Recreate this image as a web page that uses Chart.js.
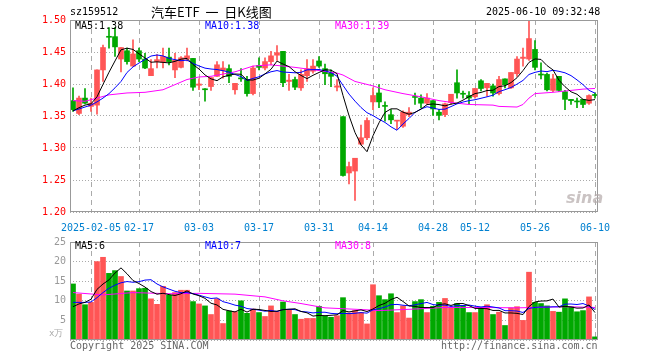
<!DOCTYPE html>
<html>
<head>
<meta charset="utf-8">
<script src="https://cdn.jsdelivr.net/npm/chart.js@4.4.1/dist/chart.umd.min.js"></script>
<style>
body{margin:0;width:660px;height:360px;background:#fff;position:relative;overflow:hidden;font-family:"DejaVu Sans Mono",monospace;font-size:10px}
canvas{position:absolute;left:0}
#price{top:0}
#vol{top:232px}
.t{position:absolute;white-space:pre;line-height:10px;font-size:10px}
</style>
</head>
<body>
<canvas id="price" width="660" height="240" style="width:660px;height:240px"></canvas>
<canvas id="vol" width="660" height="128" style="width:660px;height:128px"></canvas>

<div class="t" style="left:70px;top:7px">sz159512</div>
<div class="t" style="left:151px;top:5px;font:13px/13px 'Noto Sans CJK SC',sans-serif">汽车ETF  一  日K线图</div>
<div class="t" style="left:486px;top:7px">2025-06-10 09:32:48</div>

<div class="t" style="left:75px;top:21px;color:#000">MA5:1.38</div>
<div class="t" style="left:205px;top:21px;color:#0000ff">MA10:1.38</div>
<div class="t" style="left:335px;top:21px;color:#ff00ff">MA30:1.39</div>

<div class="t" style="left:75px;top:241px;color:#000">MA5:6</div>
<div class="t" style="left:205px;top:241px;color:#0000ff">MA10:7</div>
<div class="t" style="left:335px;top:241px;color:#ff00ff">MA30:8</div>

<div class="t" style="left:49px;top:328px;color:#aaa;font-size:9px">x万</div>
<div class="t" style="left:70px;top:341px;color:#666">Copyright 2025 SINA.COM</div>
<div class="t" style="left:441px;top:341px;color:#666">http://finance.sina.com.cn</div>
<div class="t" style="left:566px;top:190px;color:rgba(180,170,170,0.7);font:italic bold 16px/16px 'DejaVu Sans',sans-serif">sina</div>

<script>
const dates = [
  '01-23','01-24','01-27',
  '02-05','02-06','02-07','02-10','02-11','02-12','02-13','02-14','02-17','02-18','02-19','02-20','02-21','02-24','02-25','02-26','02-27','02-28',
  '03-03','03-04','03-05','03-06','03-07','03-10','03-11','03-12','03-13','03-14','03-17','03-18','03-19','03-20','03-21','03-24','03-25','03-26','03-27','03-28','03-31',
  '04-01','04-02','04-03','04-07','04-08','04-09','04-10','04-11','04-14','04-15','04-16','04-17','04-18','04-21','04-22','04-23','04-24','04-25','04-28','04-29','04-30',
  '05-06','05-07','05-08','05-09','05-12','05-13','05-14','05-15','05-16','05-19','05-20','05-21','05-22','05-23','05-26','05-27','05-28','05-29','05-30',
  '06-03','06-04','06-05','06-06','06-09','06-10'
];

const opens = [
  1.374,1.354,1.378,1.365,1.367,1.422,1.474,1.474,1.439,1.452,
  1.428,1.452,1.439,1.413,1.435,1.434,1.442,1.422,1.426,1.439,
  1.440,1.398,1.392,1.396,1.412,1.421,1.424,1.391,1.409,1.407,
  1.385,1.429,1.425,1.435,1.445,1.451,1.404,1.407,1.394,1.413,
  1.420,1.436,1.424,1.417,1.395,1.349,1.261,1.264,1.306,1.316,
  1.372,1.386,1.366,1.352,1.342,1.334,1.352,1.380,1.378,1.370,
  1.374,1.356,1.352,1.371,1.402,1.385,1.382,1.380,1.405,1.394,
  1.397,1.385,1.408,1.394,1.416,1.440,1.439,1.454,1.415,1.415,
  1.390,1.412,1.388,1.376,1.373,1.376,1.370,1.383
];
const highs = [
  1.394,1.381,1.393,1.378,1.422,1.461,1.488,1.488,1.457,1.456,
  1.469,1.456,1.448,1.438,1.446,1.456,1.456,1.448,1.443,1.456,
  1.440,1.408,1.393,1.410,1.435,1.435,1.430,1.401,1.424,1.412,
  1.428,1.441,1.441,1.451,1.460,1.451,1.415,1.411,1.422,1.438,
  1.438,1.443,1.431,1.422,1.407,1.349,1.278,1.284,1.336,1.347,
  1.394,1.399,1.372,1.360,1.343,1.358,1.363,1.386,1.383,1.385,
  1.374,1.360,1.370,1.384,1.422,1.389,1.388,1.393,1.407,1.401,
  1.400,1.412,1.408,1.418,1.443,1.456,1.501,1.468,1.433,1.417,
  1.415,1.412,1.390,1.376,1.378,1.376,1.383,1.386
];
const lows = [
  1.357,1.352,1.369,1.357,1.353,1.404,1.456,1.443,1.419,1.431,
  1.428,1.435,1.424,1.413,1.425,1.425,1.430,1.410,1.425,1.436,
  1.390,1.391,1.373,1.390,1.412,1.409,1.402,1.384,1.404,1.381,
  1.383,1.422,1.422,1.430,1.437,1.396,1.390,1.391,1.390,1.404,
  1.417,1.426,1.399,1.396,1.389,1.256,1.244,1.218,1.305,1.313,
  1.360,1.363,1.342,1.338,1.329,1.332,1.349,1.368,1.363,1.368,
  1.351,1.344,1.349,1.368,1.378,1.378,1.369,1.378,1.389,1.381,
  1.381,1.383,1.394,1.393,1.412,1.428,1.437,1.422,1.408,1.389,
  1.388,1.388,1.360,1.368,1.363,1.363,1.368,1.378
];
const closes = [
  1.360,1.378,1.370,1.370,1.422,1.457,1.473,1.458,1.457,1.435,
  1.447,1.439,1.425,1.424,1.438,1.443,1.435,1.437,1.441,1.444,
  1.395,1.400,1.391,1.410,1.430,1.425,1.412,1.401,1.408,1.385,
  1.425,1.426,1.435,1.444,1.449,1.402,1.406,1.395,1.415,1.424,
  1.428,1.428,1.416,1.412,1.397,1.257,1.271,1.284,1.316,1.343,
  1.382,1.372,1.365,1.344,1.343,1.356,1.356,1.379,1.370,1.378,
  1.361,1.351,1.369,1.384,1.386,1.384,1.378,1.393,1.393,1.401,
  1.386,1.407,1.399,1.418,1.439,1.442,1.471,1.426,1.414,1.391,
  1.408,1.390,1.376,1.374,1.372,1.368,1.382,1.382
];
// volume, in 10k
const volumes = [
  14.3,11.7,9.0,9.6,20.0,21.1,17.0,17.7,16.2,12.5,
  12.5,13.1,13.2,10.5,9.1,13.7,11.4,12.1,12.7,12.7,
  9.8,9.2,8.7,6.5,10.5,4.2,7.4,7.2,10.0,6.8,
  7.9,7.0,6.0,8.7,7.2,9.7,7.7,6.5,5.3,5.5,
  5.5,8.6,6.1,5.8,6.2,10.8,6.9,7.5,7.0,4.1,
  14.1,11.3,10.3,11.8,7.0,8.7,5.6,9.8,10.3,7.0,
  8.6,9.6,10.6,8.3,9.3,8.7,7.0,7.0,8.2,9.0,
  6.5,7.1,3.7,8.2,8.5,5.0,17.3,9.6,9.3,8.7,
  7.3,7.1,10.5,8.5,7.2,7.5,11.0,0.8
];

// averages before enough history exists
const ma5Lead = [1.358,1.363,1.367,1.369];
const ma10Lead = [1.358,1.361,1.364,1.367,1.372,1.378,1.385,1.394,1.404];
const vma5Lead = [8.5,9.2,9.6,10.4];
const vma10Lead = [9.6,9.6,9.6,9.7,10.8,12.1,13.2,14.0,14.6];

// MA30 at these days
const ma30Days = [0,2,4,6,9,12,15,17,19,21,23,27,30,33,37,41,44,45,47,50,52,55,58,61,64,66,70,71,74,75,76,77,80,83,85,87];
const ma30Vals = [1.374,1.373,1.378,1.383,1.386,1.387,1.391,1.399,1.407,1.411,1.412,1.419,1.428,1.430,1.426,1.421,1.417,1.414,1.404,1.397,1.391,1.385,1.380,1.374,1.370,1.368,1.367,1.365,1.364,1.368,1.378,1.385,1.387,1.390,1.392,1.393];
const vma30Days = [0,5,10,16,21,27,32,35,38,42,49,51,57,62,68,74,77,82,87];
const vma30Vals = [12.1,11.5,12.1,11.8,11.9,11.7,11.0,10.0,9.3,8.2,7.7,7.5,7.9,8.3,8.3,8.2,8.3,8.5,8.3];

const tickDates = ['02-05','02-17','03-03','03-17','03-31','04-14','04-28','05-12','05-26','06-10'];
const tickLabels = ['2025-02-05','02-17','03-03','03-17','03-31','04-14','04-28','05-12','05-26','06-10'];

const RED = '#ff5555', GREEN = '#00a800';
const colors = closes.map((c, i) => c >= opens[i] ? RED : GREEN);
const tickIdx = tickDates.map(d => dates.indexOf(d));

function ma(arr, n, lead) {
  return arr.map((v, i) => {
    if (i < n - 1) return lead[i];
    let s = 0;
    for (let k = i - n + 1; k <= i; k++) s += arr[k];
    return s / n;
  });
}
function sparse(days, vals) {
  const out = dates.map(() => null);
  days.forEach((d, k) => { out[d] = vals[k]; });
  return out;
}

const font = {family: '"DejaVu Sans Mono", monospace', size: 10};

const frame = {
  id: 'frame',
  afterDraw(chart) {
    const {ctx, chartArea: a} = chart;
    ctx.save();
    ctx.strokeStyle = '#999';
    ctx.lineWidth = 1;
    ctx.strokeRect(Math.round(a.left) + 0.5, Math.round(a.top) + 0.5,
      Math.round(a.right - a.left) - 1, Math.round(a.bottom - a.top) - 1);
    ctx.restore();
  }
};

function xAxis(showLabels, h) {
  return {
    offset: true,
    grid: {
      offset: false, drawTicks: false, lineWidth: 1,
      color: c => tickIdx.includes(c.index) ? '#aaa' : 'rgba(0,0,0,0)'
    },
    border: {display: false, dash: [5, 4]},
    ticks: {
      display: showLabels, autoSkip: false, maxRotation: 0, padding: 10,
      color: '#0080d0', font,
      callback: (v, i) => { const k = tickIdx.indexOf(i); return k < 0 ? '' : tickLabels[k]; }
    },
    afterFit: s => { s.height = h; }
  };
}

function line(data, color) {
  return {type: 'line', data, borderColor: color, borderWidth: 1, pointRadius: 0,
    tension: 0, spanGaps: true, order: 0};
}

new Chart(document.getElementById('price'), {
  type: 'bar',
  data: {
    labels: dates,
    datasets: [
      {data: lows.map((l, i) => [l, highs[i]]), backgroundColor: colors,
        barThickness: 1, grouped: false, order: 2},
      {data: opens.map((o, i) => [o, closes[i]]), backgroundColor: colors,
        barThickness: 5, minBarLength: 1, grouped: false, order: 1},
      line(ma(closes, 5, ma5Lead), '#000000'),
      line(ma(closes, 10, ma10Lead), '#0000ff'),
      line(sparse(ma30Days, ma30Vals), '#ff00ff')
    ]
  },
  options: {
    responsive: false,
    animation: false,
    layout: {padding: {top: 20, right: 62, left: 0, bottom: 0}},
    plugins: {legend: {display: false}, tooltip: {enabled: false}},
    scales: {
      x: xAxis(true, 28),
      y: {
        min: 1.2, max: 1.5,
        ticks: {stepSize: 0.05, color: '#ff0000', font, padding: 4, callback: v => v.toFixed(2)},
        grid: {color: '#aaa', drawTicks: false},
        border: {display: false, dash: [1, 2]},
        afterFit: s => { s.width = 70; }
      }
    }
  },
  plugins: [frame]
});

new Chart(document.getElementById('vol'), {
  type: 'bar',
  data: {
    labels: dates,
    datasets: [
      {data: volumes, backgroundColor: colors, barThickness: 5, order: 1},
      line(ma(volumes, 5, vma5Lead), '#000000'),
      line(ma(volumes, 10, vma10Lead), '#0000ff'),
      line(sparse(vma30Days, vma30Vals), '#ff00ff')
    ]
  },
  options: {
    responsive: false,
    animation: false,
    layout: {padding: {top: 8, right: 62, left: 0, bottom: 0}},
    plugins: {legend: {display: false}, tooltip: {enabled: false}},
    scales: {
      x: xAxis(false, 20),
      y: {
        min: 0, max: 25,
        ticks: {stepSize: 5, color: '#999', font, padding: 4, callback: v => v === 0 ? '' : v},
        grid: {color: '#aaa', drawTicks: false},
        border: {display: false, dash: [1, 2]},
        afterFit: s => { s.width = 70; }
      }
    }
  },
  plugins: [frame]
});
</script>
</body>
</html>
